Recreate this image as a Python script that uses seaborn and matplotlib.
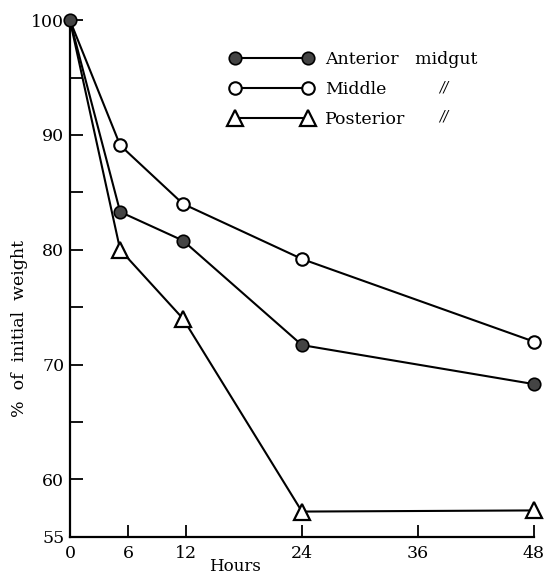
import matplotlib
matplotlib.use("Agg")
import matplotlib.pyplot as plt
from matplotlib.lines import Line2D
import seaborn as sns
import pandas as pd
from matplotlib.ticker import FixedLocator

hours = [0, 5.2, 11.7, 24, 48]
anterior = [100, 83.3, 80.8, 71.7, 68.3]
middle = [100, 89.1, 84.0, 79.2, 72.0]
posterior = [100, 80.0, 74.0, 57.2, 57.3]
y_major = [55, 60, 70, 80, 90, 100]
y_minor = [65, 75, 85, 95]
x_ticks = [0, 6, 12, 24, 36, 48]
labels = ["Anterior   midgut", "Middle", "Posterior"]

sns.set_theme(style="ticks")
plt.rcParams['font.family'] = ['DejaVu Serif']
plt.rcParams['text.color'] = 'black'

fig = plt.figure(figsize=(5.46, 5.76), dpi=100)
ax = fig.add_axes([0.128, 0.068, 0.85, 0.897])

df = pd.DataFrame({"Hours": hours, "Anterior": anterior, "Middle": middle, "Posterior": posterior})

styles = [
    dict(marker="o", markersize=9, mfc="#444444", mec="black", mew=1.2),
    dict(marker="o", markersize=9, mfc="white", mec="black", mew=1.5),
    dict(marker="^", markersize=11, mfc="white", mec="black", mew=1.6),
]
sns.lineplot(data=df, x="Hours", y="Middle", ax=ax, color="black", lw=1.5,
             markevery=[1, 2, 3, 4], clip_on=False, **styles[1])
sns.lineplot(data=df, x="Hours", y="Posterior", ax=ax, color="black", lw=1.5,
             markevery=[1, 2, 3, 4], clip_on=False, **styles[2])
sns.lineplot(data=df, x="Hours", y="Anterior", ax=ax, color="black", lw=1.5,
             clip_on=False, zorder=5, **styles[0])

ax.set_xlim(0, 48)
ax.set_ylim(55, 100)
ax.set_xticks(x_ticks)
ax.set_xticklabels([str(t) for t in x_ticks])
ax.set_yticks(y_major)
ax.set_yticklabels([str(t) for t in y_major])
ax.yaxis.set_minor_locator(FixedLocator(y_minor))
ax.tick_params(axis="both", which="both", direction="in", length=9, width=1.3,
               labelsize=12.5, colors="black", pad=4)
ax.tick_params(axis="x", pad=6)
for s in ["top", "right"]:
    ax.spines[s].set_visible(False)
for s in ["left", "bottom"]:
    ax.spines[s].set_linewidth(1.6)
    ax.spines[s].set_color("black")
ax.set_xlabel("")
ax.set_ylabel("")

fig.text(0.035, 0.43, "%  of  initial  weight", rotation=90, ha="center", va="center",
         fontsize=12.5, color="black")
fig.text(0.43, 0.016, "Hours", ha="center", va="center", fontsize=12, color="black")

handles = [Line2D([], [], color="black", lw=1.5, **st) for st in styles]
leg = ax.legend(handles, labels, loc="upper left", bbox_to_anchor=(0.31, 0.97),
                frameon=False, numpoints=2, handlelength=4.8, fontsize=12.5,
                labelspacing=0.75, handletextpad=0.7)
for t in leg.get_texts():
    t.set_color("black")

for yy in [0.848, 0.797]:
    fig.text(0.812, yy, "//", ha="center", va="center", fontsize=10, style="italic",
             color="black")

fig.savefig("out.png", dpi=100)
